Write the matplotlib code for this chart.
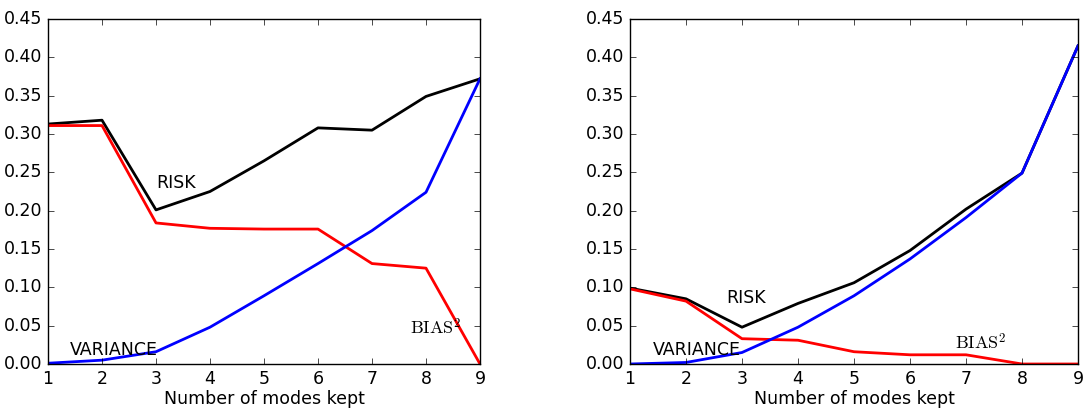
import matplotlib
matplotlib.use('Agg')
from matplotlib import pyplot as plt

modes = [1, 2, 3, 4, 5, 6, 7, 8, 9]

risk_left = [0.313, 0.318, 0.201, 0.225, 0.265, 0.308, 0.305, 0.349, 0.372]
bias_left = [0.311, 0.311, 0.184, 0.177, 0.176, 0.176, 0.131, 0.125, 0.0]
var_left = [0.001, 0.005, 0.016, 0.048, 0.089, 0.131, 0.174, 0.224, 0.372]

risk_right = [0.099, 0.085, 0.048, 0.079, 0.106, 0.148, 0.202, 0.249, 0.415]
bias_right = [0.098, 0.082, 0.033, 0.031, 0.016, 0.012, 0.012, 0.0, 0.0]
var_right = [0.0, 0.002, 0.015, 0.048, 0.089, 0.137, 0.191, 0.249, 0.415]

plt.style.use('classic')
plt.rcParams['figure.facecolor'] = 'white'
plt.rcParams['font.family'] = 'DejaVu Sans'
plt.rcParams['mathtext.fontset'] = 'cm'

fig = plt.figure(figsize=(10.84, 4.08), dpi=100)
ax1 = fig.add_axes([48 / 1084, 44 / 408, 432 / 1084, 345 / 408])
ax2 = fig.add_axes([630 / 1084, 44 / 408, 448 / 1084, 345 / 408])


def panel(ax, risk, bias, var, risk_pos, var_pos, bias_pos):
    ax.plot(modes, risk, color='k', lw=2)
    ax.plot(modes, bias, color='r', lw=2)
    ax.plot(modes, var, color='b', lw=2)
    ax.set_xlim(1, 9)
    ax.set_ylim(0, 0.45)
    ax.set_yticks([0.0, 0.05, 0.10, 0.15, 0.20, 0.25, 0.30, 0.35, 0.40, 0.45])
    ax.yaxis.set_major_formatter(matplotlib.ticker.FormatStrFormatter('%.2f'))
    ax.tick_params(labelsize=12.5)
    ax.set_xlabel('Number of modes kept', fontsize=12.5, labelpad=2)
    ax.text(risk_pos[0], risk_pos[1], 'RISK', fontsize=12.5)
    ax.text(var_pos[0], var_pos[1], 'VARIANCE', fontsize=12.5)
    ax.text(bias_pos[0], bias_pos[1], r'$\mathrm{BIAS}^2$', fontsize=13)


panel(ax1, risk_left, bias_left, var_left, (3.0, 0.23), (1.4, 0.012), (7.7, 0.038))
panel(ax2, risk_right, bias_right, var_right, (2.72, 0.08), (1.4, 0.012), (6.8, 0.019))

fig.savefig('out.png', dpi=100)
